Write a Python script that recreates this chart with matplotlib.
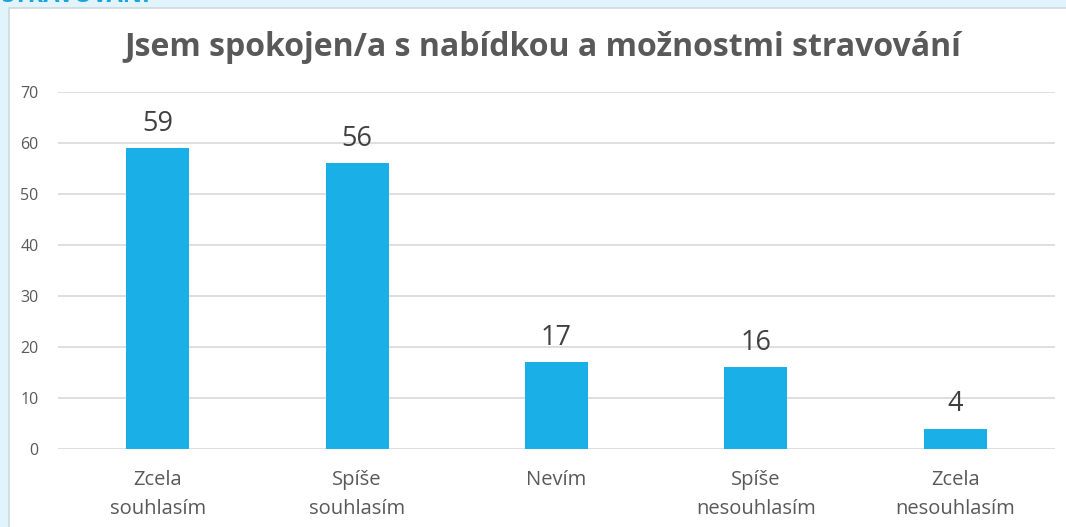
import matplotlib.pyplot as plt
from matplotlib.patches import Rectangle

categories = ["Zcela\nsouhlasím", "Spíše\nsouhlasím", "Nevím", "Spíše\nnesouhlasím", "Zcela\nnesouhlasím"]
values = [59, 56, 17, 16, 4]
y_ticks = [0, 10, 20, 30, 40, 50, 60, 70]

plt.rcParams['font.family'] = ['Open Sans', 'DejaVu Sans']

fig = plt.figure(figsize=(10.66, 5.27), dpi=100)
fig.patch.set_facecolor('#e1f3fb')

# white panel behind the chart
W, H = 1066, 527
bg = fig.add_axes([0, 0, 1, 1], zorder=-1)
bg.axis('off')
bg.add_patch(Rectangle((9 / W, -0.01), 1, 1 - 8 / H + 0.01, transform=bg.transAxes,
                       facecolor='white', edgecolor='#cfd8dc', linewidth=1.2))

# cut-off section heading at the top
fig.text(2 / W, 1 + 4 / H, "STRAVOVÁNÍ", color='#1aa3e0', fontsize=17,
         fontweight='bold', ha='left', va='center')

ax = fig.add_axes([58 / W, 1 - 449 / H, (1055 - 58) / W, (449 - 92) / H], zorder=1)
ax.set_facecolor('none')

x = range(len(categories))
ax.bar(x, values, width=0.316, color='#1aafe6', zorder=3)
for xi, v in zip(x, values):
    ax.text(xi, v + 2.0, str(v), ha='center', va='bottom', fontsize=19.5, color='#404040')

ax.set_xlim(-0.5, len(categories) - 0.5)
ax.set_ylim(0, 70)
ax.set_yticks(y_ticks)
ax.set_xticks(list(x))
ax.set_xticklabels(categories, fontsize=14.5, color='#595959', linespacing=1.6)
ax.tick_params(axis='y', labelsize=11.5, labelcolor='#595959', length=0, pad=14)
ax.tick_params(axis='x', length=0, pad=15)
ax.grid(axis='y', color='#d9d9d9', linewidth=1.2, zorder=0)
for s in ax.spines.values():
    s.set_visible(False)

fig.text(0.509, 1 - 48 / H, "Jsem spokojen/a s nabídkou a možnostmi stravování",
         ha='center', va='center', fontsize=23, fontweight='bold', color='#595959')

fig.savefig('out.png', dpi=100, facecolor=fig.get_facecolor())
